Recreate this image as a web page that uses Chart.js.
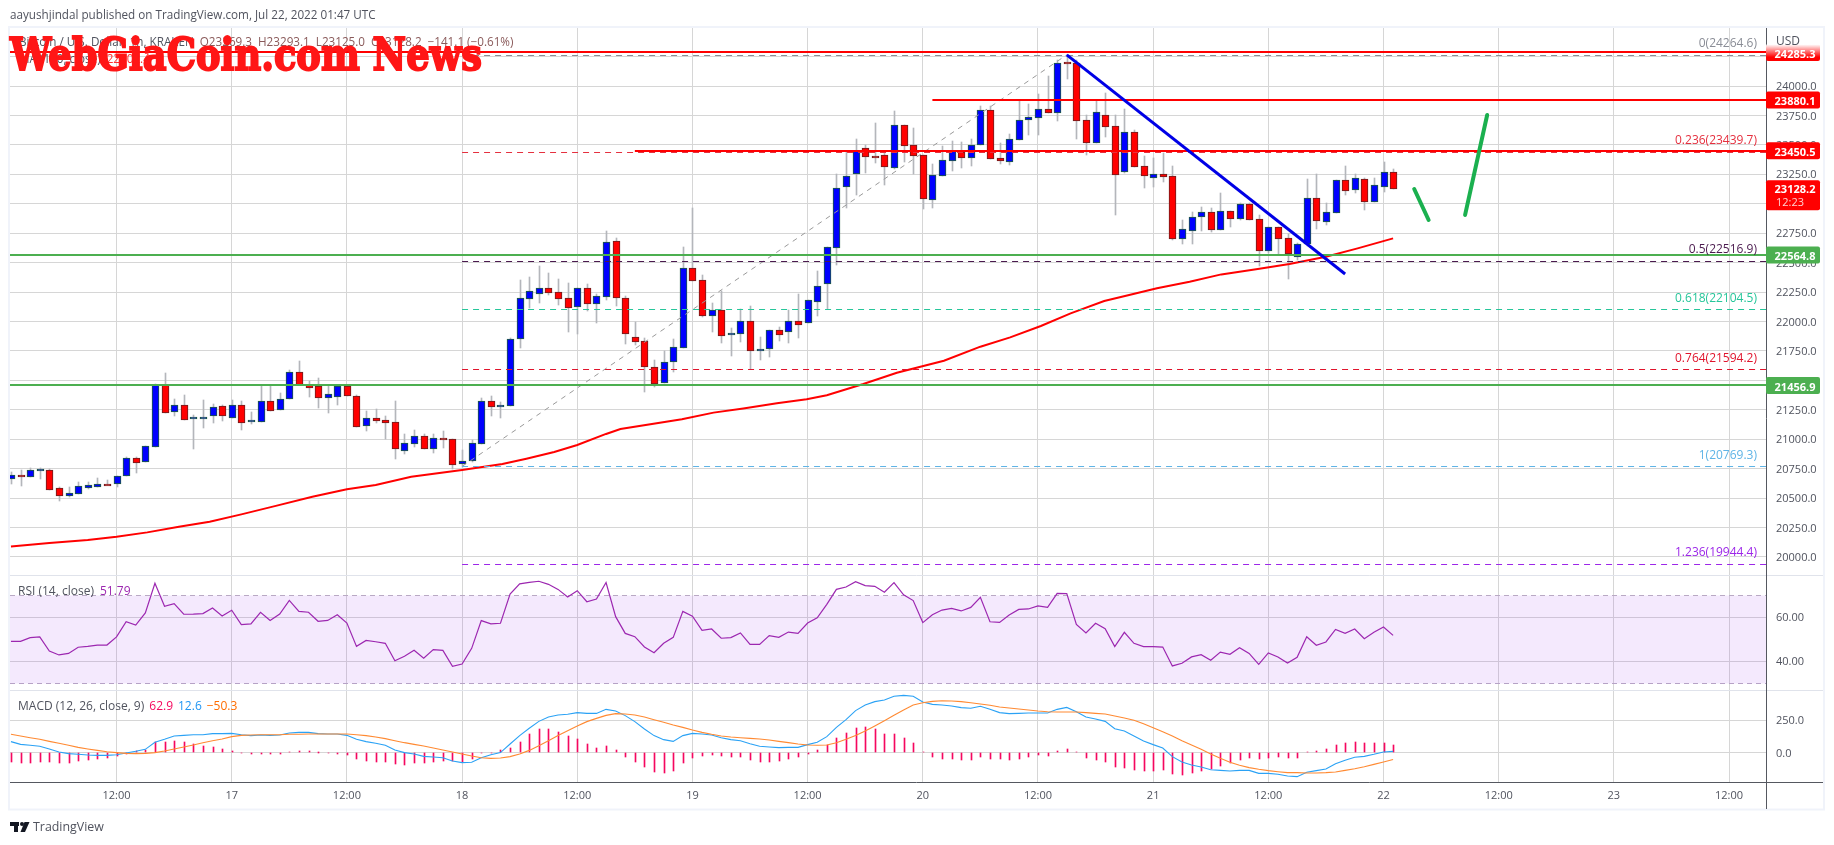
<!DOCTYPE html>
<html>
<head>
<meta charset="utf-8">
<title>BTC/USD 1h</title>
<script src="https://cdn.jsdelivr.net/npm/chart.js@4/dist/chart.umd.min.js"></script>
<style>
  html, body { margin: 0; padding: 0; background: #fff; }
  canvas { display: block; }
</style>
</head>
<body>
<canvas id="chart" width="1834" height="845"></canvas>
<script>
// Hourly candles, first one is Jul 16 01:00 (x axis counts hours from Jul 16 00:00)
const opens = [
  20665,20693,20682,20733,20736,20583,20521,20538,20589,20597,
  20617,20617,20685,20838,20809,20937,21461,21234,21288,21183,
  21183,21194,21279,21183,21288,21149,21149,21322,21245,21344,
  21568,21461,21452,21353,21362,21452,21364,21115,21178,21161,
  21144,20903,20962,21025,20920,21008,20999,20787,20818,20962,
  21322,21277,21285,21848,22194,22236,22281,22247,22197,22126,
  22281,22146,22211,22681,22197,21865,21831,21610,21480,21653,
  21777,22451,22349,22049,22095,21894,21896,22001,21752,21763,
  21925,21908,22001,21984,22168,22321,22627,23145,23250,23470,
  23403,23411,23301,23666,23496,23411,23029,23238,23366,23437,
  23391,23502,23793,23388,23357,23544,23714,23731,23802,23773,
  24201,24192,23708,23519,23751,23658,23272,23606,23318,23221,
  23250,23233,22703,22771,22890,22927,22780,22936,22873,22995,
  22868,22601,22800,22706,22550,22655,23046,22848,22919,23199,
  23117,23207,23018,23145,23269.3
];
const highs = [
  20725,20739,20753,20753,20744,20591,20591,20637,20637,20668,
  20654,20685,20849,20846,20940,21465,21560,21339,21376,21206,
  21333,21296,21288,21330,21327,21231,21452,21452,21395,21588,
  21664,21495,21517,21461,21461,21461,21376,21240,21257,21197,
  21325,21044,21078,21044,21044,21070,20999,20909,20994,21350,
  21367,21316,21857,22352,22378,22471,22412,22361,22327,22281,
  22318,22236,22768,22709,22213,21996,21860,21673,21746,21851,
  22632,22964,22395,22157,22259,21942,22103,22131,21868,21925,
  21950,22097,22233,22180,22426,22630,23252,23442,23550,23499,
  23686,23442,23788,23666,23643,23411,23337,23490,23533,23524,
  23550,23830,23830,23519,23592,23873,23844,23932,24085,24221,
  24264,24221,23754,23873,23938,23751,23805,23626,23405,23388,
  23428,23321,22859,22927,22969,22961,23091,22939,23003,23003,
  22904,22800,22800,22740,22669,23207,23250,23006,23199,23321,
  23250,23216,23216,23354,23293.1
];
const lows = [
  20620,20603,20682,20662,20572,20478,20512,20538,20577,20591,
  20614,20591,20685,20713,20809,20937,21220,21200,21166,20920,
  21095,21138,21158,21183,21081,21132,21149,21243,21245,21344,
  21461,21362,21268,21226,21291,21370,21107,21073,21141,21005,
  20835,20875,20937,20914,20883,20923,20744,20767,20809,20962,
  21197,21180,21285,21775,22112,22160,22225,22143,21913,21894,
  22092,21990,22182,22134,21811,21803,21404,21441,21480,21574,
  21777,22347,22041,21913,21820,21710,21829,21594,21676,21701,
  21834,21820,21862,21984,22049,22103,22482,22967,23074,23264,
  23349,23162,23292,23357,23252,22958,22967,23238,23281,23304,
  23320,23502,23383,23338,23329,23544,23584,23584,23773,23703,
  24062,23550,23414,23519,23564,22904,23258,23315,23134,23139,
  23185,22692,22658,22658,22771,22760,22780,22805,22862,22862,
  22471,22579,22570,22358,22522,22644,22785,22819,22919,23077,
  23094,22947,23018,23100,23125
];
const closes = [
  20693,20687,20736,20744,20572,20521,20541,20600,20609,20617,
  20614,20685,20838,20801,20940,21458,21226,21288,21166,21189,
  21189,21277,21200,21288,21141,21161,21322,21243,21339,21568,
  21461,21438,21353,21381,21452,21370,21107,21178,21158,21141,
  20920,20965,21025,20920,21008,20996,20784,20812,20965,21322,
  21277,21288,21848,22197,22256,22281,22245,22194,22117,22281,
  22151,22213,22672,22202,21896,21829,21610,21472,21653,21780,
  22451,22347,22049,22095,21879,21899,22001,21752,21763,21925,
  21888,22001,21973,22180,22298,22630,23131,23233,23448,23400,
  23391,23315,23666,23493,23408,23037,23244,23369,23448,23391,
  23496,23793,23383,23366,23547,23708,23734,23802,23773,24198,
  24190,23706,23519,23776,23655,23247,23606,23315,23238,23250,
  23230,22701,22783,22885,22927,22777,22936,22873,22995,22865,
  22601,22800,22703,22570,22655,23046,22856,22927,23199,23111,
  23216,23018,23156,23267,23128.2
];

// MA 100 at these hours
const maHours = [1,5,9,12,15.2,18.5,21.7,25,28.7,32.4,36,39,42.7,48,52.2,54.7,57.6,60,63,64.5,70.9,74.2,77.3,80.8,83.9,86,89.8,93.3,98.2,102,105.1,108.3,111.4,114.9,117.5,120.4,123.8,127.1,130.9,134.2,138,141.3,145];
const maValues = [20090,20119,20144,20172,20209,20257,20300,20362,20436,20512,20575,20611,20682,20739,20790,20835,20892,20951,21045,21087,21169,21226,21262,21305,21339,21373,21469,21565,21667,21786,21865,21962,22069,22174,22225,22282,22338,22400,22446,22488,22550,22621,22706];

const rsiValues = [
  49.1,49.1,50.8,51.1,44.7,42.9,43.6,46.4,46.8,47.4,
  47.4,51.1,58.0,56.5,62.0,75.5,65.0,66.2,61.4,61.5,
  61.7,64.2,60.6,63.2,56.7,57.0,62.3,58.6,61.5,67.7,
  62.7,62.3,58.2,58.6,61.2,57.4,46.8,49.5,48.9,48.2,
  40.3,42.3,45.0,41.4,45.3,45.0,37.7,38.8,45.9,58.5,
  57.0,57.3,70.6,75.2,75.9,76.4,75.0,72.7,69.2,72.1,
  67.1,68.3,75.8,60.3,52.7,51.2,46.5,43.9,48.2,50.9,
  62.7,60.5,54.1,54.7,50.5,50.8,52.9,47.7,47.7,51.7,
  50.9,53.3,52.7,57.4,59.8,65.9,72.7,73.8,76.2,74.4,
  74.1,71.4,75.8,70.2,67.6,57.6,61.2,63.3,64.1,62.9,
  64.5,69.1,58.0,57.7,61.1,63.6,63.8,65.2,64.5,70.9,
  70.8,56.8,52.9,57.3,54.8,46.7,53.2,48.2,46.7,46.7,
  46.5,37.9,39.1,42.0,43.0,40.5,44.2,43.2,46.2,43.6,
  38.6,43.8,42.0,39.2,41.8,51.2,47.3,48.8,54.5,52.7,
  54.7,50.3,53.2,55.6,51.79
];

const macdValues = [
  87,66,59,51,31,8,-5,-10,-15,-18,
  -18,-13,0,13,28,82,105,130,135,140,
  140,148,148,150,140,133,138,135,138,153,
  158,158,148,145,145,135,105,87,74,59,
  23,3,-8,-26,-31,-36,-61,-74,-71,-36,
  -13,3,69,133,189,242,275,291,296,309,
  303,303,334,321,286,240,184,133,102,89,
  133,150,145,138,117,102,94,71,51,46,
  41,43,43,64,82,125,196,255,324,367,
  393,405,434,441,434,390,372,367,360,347,
  342,357,334,309,301,303,306,306,306,334,
  349,316,275,260,242,186,168,130,92,64,
  38,-28,-69,-92,-107,-128,-133,-138,-133,-133,
  -156,-156,-163,-176,-181,-148,-135,-122,-82,-56,
  -33,-26,-10,8,12.6
];
const signalValues = [
  143,130,117,105,89,74,59,43,31,20,
  10,3,-3,-5,-3,3,15,31,46,61,
  79,94,107,125,135,138,140,140,140,143,
  143,145,145,145,145,145,140,133,122,110,
  94,79,66,54,38,23,8,-8,-23,-36,
  -41,-38,-28,-8,20,56,94,133,171,207,
  240,265,288,301,298,291,275,255,235,214,
  196,176,158,143,130,122,117,112,107,99,
  89,79,69,61,59,61,79,105,133,168,
  207,247,288,329,367,385,395,400,398,393,
  385,375,365,352,344,337,329,321,316,314,
  314,314,309,303,298,283,268,250,224,194,
  163,130,94,61,28,-8,-41,-71,-94,-112,
  -125,-135,-143,-150,-150,-153,-153,-150,-145,-133,
  -120,-105,-87,-69,-50.3
];
const histValues = [
  -69,-74,-74,-66,-66,-74,-74,-59,-54,-48,
  -38,-23,-8,13,23,82,87,92,84,66,
  56,46,31,13,-3,-10,-8,-10,-8,5,
  13,13,3,-2,-5,-13,-43,-61,-66,-69,
  -82,-89,-79,-79,-66,-59,-64,-71,-46,-3,
  -3,23,36,84,143,181,186,161,133,107,
  69,41,56,23,-28,-66,-105,-143,-150,-140,
  -74,-36,-20,-13,-20,-28,-28,-54,-66,-66,
  -59,-43,-28,-5,23,61,117,153,191,199,
  184,148,148,117,77,5,-28,-43,-43,-51,
  -51,-31,-43,-48,-51,-43,-31,-18,-20,15,
  31,5,-36,-51,-66,-105,-115,-128,-135,-135,
  -128,-158,-166,-150,-135,-122,-97,-79,-54,-38,
  -46,-36,-31,-36,-36,8,13,28,61,77,
  82,77,77,77,62.9
];

const timeTickHours = [12,24,36,48,60,72,84,96,108,120,132,144,156,168,180];
const timeTickLabels = ["12:00","17","12:00","18","12:00","19","12:00","20","12:00","21","12:00","22","12:00","23","12:00"];
const priceTicks = [20000,20250,20500,20750,21000,21250,21500,21750,22000,22250,22500,22750,23000,23250,23500,23750,24000,24250];
const rsiTicks = [40,60];
const macdTicks = [0,250];

// Fibonacci retracement, drawn from hour 48 up to the price axis
const fibLabels = ["0","0.236","0.5","0.618","0.764","1","1.236"];
const fibPrices = [24264.6,23439.7,22516.9,22104.5,21594.2,20769.3,19944.4];
const fibColors = ["#8a8d96","#e5303f","#4a1a4e","#26c69a","#e0142c","#5fb4e6","#9c27e8"];

// Hand drawn levels: price, first hour, colour
const levelPrices = [24285.3,23880.1,23450.5,22564.8,21456.9];
const levelStarts = [0,97,66,0,0];
const levelColors = ["#ff0000","#ff0000","#ff0000","#4caf50","#4caf50"];

// Hand drawn trend line and the two green arrows
const trendHours = [111,140];
const trendPrices = [24264.6,22403];
const fibDiagHours = [48,111];
const fibDiagPrices = [20769.3,24264.6];
const arrowDownHours = [147.2,148.7];
const arrowDownPrices = [23125,22862];
const arrowUpHours = [152.5,154.8];
const arrowUpPrices = [22905,23754];

const xMin = 0.9;
const xMax = 183.85;
const axisFont = '"Open Sans"';
const tickColor = "#50535e";
const gridColor = "#d6d6d6";

const toPoints = (xs, ys) => xs.map((x, i) => ({ x, y: ys[i] }));
const perBar = (values) => values.map((y, i) => ({ x: i + 1, y }));
const isUp = (i) => closes[i] >= opens[i];

const lineSet = (label, data, yAxisID, extra) => ({
  type: "line",
  label,
  data,
  yAxisID,
  pointRadius: 0,
  tension: 0,
  fill: false,
  ...extra,
});

const datasets = [
  // Candles: wick as a thin floating bar, body as a wider one
  {
    type: "bar",
    label: "wicks",
    data: highs.map((h, i) => ({ x: i + 1, y: [lows[i], h] })),
    yAxisID: "y",
    grouped: false,
    barThickness: 1,
    backgroundColor: "#b4b6bb",
    order: 20,
  },
  {
    type: "bar",
    label: "bodies",
    data: opens.map((o, i) => ({ x: i + 1, y: [o, closes[i]] })),
    yAxisID: "y",
    grouped: false,
    barThickness: 7,
    borderWidth: 1,
    borderSkipped: false,
    backgroundColor: opens.map((o, i) => (isUp(i) ? "#0000ff" : "#ff0000")),
    borderColor: opens.map((o, i) => (isUp(i) ? "#1f5f3a" : "#6a1f1f")),
    order: 19,
    minBodyPx: 2,
  },
  lineSet("MA 100", toPoints(maHours, maValues), "y", { borderColor: "#ff0000", borderWidth: 2, order: 10 }),
  lineSet("fib diagonal", toPoints(fibDiagHours, fibDiagPrices), "y", { borderColor: "#9a9a9a", borderWidth: 1, borderDash: [5, 5], order: 9 }),
];

fibPrices.forEach((price, i) => {
  datasets.push(
    lineSet("fib " + fibLabels[i], [{ x: 48, y: price }, { x: xMax, y: price }], "y", {
      borderColor: fibColors[i],
      borderWidth: 1,
      borderDash: [6, 5],
      order: 8,
      snapY: 0.5,
    })
  );
});

levelPrices.forEach((price, i) => {
  datasets.push(
    lineSet("level " + price, [{ x: levelStarts[i], y: price }, { x: xMax, y: price }], "y", {
      borderColor: levelColors[i],
      borderWidth: 2,
      order: 6,
      snapY: 0,
    })
  );
});

datasets.push(
  lineSet("trend", toPoints(trendHours, trendPrices), "y", { borderColor: "#0000e6", borderWidth: 3, order: 5 }),
  lineSet("arrow down", toPoints(arrowDownHours, arrowDownPrices), "y", { borderColor: "#1bb04f", borderWidth: 4, borderCapStyle: "round", order: 4 }),
  lineSet("arrow up", toPoints(arrowUpHours, arrowUpPrices), "y", { borderColor: "#1bb04f", borderWidth: 4, borderCapStyle: "round", order: 4 }),

  // RSI pane
  lineSet("rsi upper", [{ x: xMin, y: 70 }, { x: xMax, y: 70 }], "yRsi", {
    borderColor: "#b9a9c4",
    borderWidth: 1,
    borderDash: [5, 4],
    fill: "+1",
    backgroundColor: "rgba(153,51,238,0.11)",
    order: 18,
    snapY: 0.5,
  }),
  lineSet("rsi lower", [{ x: xMin, y: 30 }, { x: xMax, y: 30 }], "yRsi", {
    borderColor: "#b9a9c4",
    borderWidth: 1,
    borderDash: [5, 4],
    order: 18,
    snapY: 0.5,
  }),
  lineSet("RSI", perBar(rsiValues), "yRsi", { borderColor: "#9c27b0", borderWidth: 1.2, order: 3 }),

  // MACD pane
  {
    type: "bar",
    label: "hist",
    data: perBar(histValues),
    yAxisID: "yMacd",
    grouped: false,
    barThickness: 1,
    backgroundColor: "#f5075f",
    order: 3,
  },
  lineSet("MACD", perBar(macdValues), "yMacd", { borderColor: "#2ba2f5", borderWidth: 1.1, order: 2 }),
  lineSet("Signal", perBar(signalValues), "yMacd", { borderColor: "#ff8a33", borderWidth: 1.1, order: 1 })
);

const fixTicks = (values) => (scale) => {
  scale.ticks = values.map((value) => ({ value }));
};

const priceAxis = (extra) => ({
  type: "linear",
  position: "right",
  stack: "panes",
  border: { display: false },
  grid: { color: gridColor, drawTicks: false },
  afterFit: (scale) => {
    scale.width = 57;
  },
  ...extra,
});

// Write text pieces one after the other on a line
const drawRuns = (ctx, x, y, runs, gap) => {
  runs.forEach(([text, color]) => {
    ctx.fillStyle = color;
    ctx.fillText(text, x, y);
    x += ctx.measureText(text).width + gap;
  });
};

const badge = (ctx, top, height, fill) => {
  ctx.fillStyle = fill;
  ctx.beginPath();
  ctx.roundRect(1766, top, 54, height, 2);
  ctx.fill();
};

// Line up bars and flat lines with whole pixels so they stay crisp
const pixelSnap = {
  id: "pixelSnap",
  afterDatasetsUpdate(chart) {
    chart.getSortedVisibleDatasetMetas().forEach((meta) => {
      const source = chart.data.datasets[meta.index];
      if (meta.type === "bar") {
        meta.data.forEach((bar) => {
          bar.x = Math.round(bar.x) + 0.5;
          bar.y = Math.round(bar.y);
          bar.base = Math.round(bar.base);
          if (source.minBodyPx && Math.abs(bar.y - bar.base) < source.minBodyPx) {
            bar.base = bar.y + source.minBodyPx;
          }
        });
      } else if (source.snapY !== undefined) {
        meta.data.forEach((point) => {
          point.y = Math.round(point.y) + source.snapY;
        });
      }
    });
  },
};

const tradingViewDecor = {
  id: "tradingViewDecor",
  beforeDraw(chart) {
    const { ctx, scales } = chart;
    ctx.save();
    ctx.fillStyle = "#fff";
    ctx.fillRect(0, 0, chart.width, chart.height);
    // light frame round the whole widget
    ctx.strokeStyle = "#f0f3fa";
    ctx.lineWidth = 2;
    ctx.strokeRect(9, 27, 1815, 782.5);
    ctx.restore();

    // axis labels sit one pixel lower than the font's middle line
    [scales.y, scales.yRsi, scales.yMacd].forEach((scale) => {
      scale.getLabelItems().forEach((item) => {
        item.options.translation[1] += 1;
      });
    });
  },
  afterDatasetsDraw(chart) {
    const { ctx, chartArea, scales } = chart;
    const { left, right, top, bottom } = chartArea;
    const y = scales.y;
    ctx.save();

    // pane separators and axis lines
    ctx.strokeStyle = "#e0e3eb";
    ctx.lineWidth = 1;
    [575.5, 690.5].forEach((py) => {
      ctx.beginPath();
      ctx.moveTo(left, py);
      ctx.lineTo(1823, py);
      ctx.stroke();
    });
    ctx.strokeStyle = "#555860";
    ctx.beginPath();
    ctx.moveTo(right + 0.5, top);
    ctx.lineTo(right + 0.5, 809);
    ctx.moveTo(left, bottom + 0.5);
    ctx.lineTo(1823, bottom + 0.5);
    ctx.stroke();

    ctx.textBaseline = "middle";

    // fib labels sit right aligned over their lines
    ctx.textAlign = "right";
    ctx.font = `12px ${axisFont}`;
    fibPrices.forEach((price, i) => {
      ctx.fillStyle = fibColors[i];
      ctx.fillText(`${fibLabels[i]}(${price.toFixed(1)})`, 1757, y.getPixelForValue(price) - 11);
    });

    // price badges on the axis
    ctx.textAlign = "center";
    ctx.font = `bold 11px ${axisFont}`;
    levelPrices.forEach((price, i) => {
      const py = y.getPixelForValue(price);
      let fill = levelColors[i];
      if (i === 0) {
        fill = ctx.createLinearGradient(0, py - 8, 0, py + 9);
        fill.addColorStop(0, "#ffffff");
        fill.addColorStop(0.75, "#ff0000");
      }
      badge(ctx, py - 8.5, 17, fill);
      ctx.fillStyle = "#fff";
      ctx.fillText(price.toFixed(1), 1795, py + 2);
    });
    const lastPrice = closes[closes.length - 1];
    const lastY = y.getPixelForValue(lastPrice);
    badge(ctx, lastY - 8.5, 30, "#ff0000");
    ctx.fillStyle = "#fff";
    ctx.fillText(lastPrice.toFixed(1), 1795, lastY + 1.5);
    ctx.font = `11px ${axisFont}`;
    ctx.fillStyle = "#ffd0d0";
    ctx.fillText("12:23", 1790, lastY + 14.5);

    ctx.textAlign = "left";
    ctx.font = `12px ${axisFont}`;
    ctx.fillStyle = tickColor;
    ctx.fillText("USD", 1776, 41.5);

    // legends
    ctx.font = `11.7px ${axisFont}`;
    drawRuns(ctx, 10, 16, [["aayushjindal published on TradingView.com, Jul 22, 2022 01:47 UTC", "#50535e"]], 0);
    drawRuns(ctx, 19, 43, [
      ["Bitcoin / U.S. Dollar, 1h, KRAKEN", "#50535e"],
      ["O23269.3", "#8a5a5a"],
      ["H23293.1", "#8a5a5a"],
      ["L23125.0", "#8a5a5a"],
      ["C23128.2", "#8a5a5a"],
      ["\u2212141.1 (\u22120.61%)", "#8a5a5a"],
    ], 6);
    drawRuns(ctx, 19, 60, [["MA (100, close)", "#50535e"], ["22702.4", "#ff3030"]], 6);
    ctx.font = `12px ${axisFont}`;
    drawRuns(ctx, 18, 592, [["RSI (14, close)", "#50535e"], ["51.79", "#9c27b0"]], 6);
    drawRuns(ctx, 18, 707, [
      ["MACD (12, 26, close, 9)", "#50535e"],
      ["62.9", "#f5075f"],
      ["12.6", "#2196f3"],
      ["\u221250.3", "#ff6d00"],
    ], 5);

    // red watermark over the legend
    ctx.textBaseline = "alphabetic";
    ctx.font = 'bold 44px "DejaVu Serif"';
    ctx.fillStyle = "#ff1616";
    ctx.strokeStyle = "#ff1616";
    ctx.lineWidth = 2;
    const mark = "WebGiaCoin.com News";
    const squeeze = 472 / ctx.measureText(mark).width;
    ctx.save();
    ctx.translate(10, 70);
    ctx.scale(squeeze, 1);
    ctx.fillText(mark, 0, 0);
    ctx.strokeText(mark, 0, 0);
    ctx.restore();

    // TradingView logo and name under the chart
    ctx.textBaseline = "middle";
    ctx.fillStyle = "#131722";
    ctx.fillRect(10, 822, 9, 4);
    ctx.fillRect(14, 822, 4, 10);
    ctx.beginPath();
    ctx.arc(22, 824, 2, 0, Math.PI * 2);
    ctx.fill();
    ctx.beginPath();
    ctx.moveTo(24.5, 822);
    ctx.lineTo(29.5, 822);
    ctx.lineTo(25, 832);
    ctx.lineTo(20.5, 832);
    ctx.closePath();
    ctx.fill();
    ctx.font = `12.4px ${axisFont}`;
    ctx.fillStyle = "#50535e";
    ctx.fillText("TradingView", 33, 827);

    ctx.restore();
  },
};

const axisTicks = (format) => ({
  autoSkip: false,
  padding: 10,
  color: tickColor,
  font: { family: axisFont, size: 11 },
  callback: format,
});

new Chart(document.getElementById("chart"), {
  type: "bar",
  data: { datasets },
  plugins: [pixelSnap, tradingViewDecor],
  options: {
    responsive: false,
    animation: false,
    devicePixelRatio: 1,
    layout: { padding: { left: 10, top: 28, right: 11, bottom: 36 } },
    plugins: { legend: { display: false }, tooltip: { enabled: false } },
    scales: {
      x: {
        type: "linear",
        min: xMin,
        max: xMax,
        offset: false,
        border: { display: false },
        grid: { color: gridColor, drawTicks: false, offset: false },
        afterBuildTicks: fixTicks(timeTickHours),
        afterFit: (scale) => {
          scale.height = 27;
        },
        ticks: {
          autoSkip: false,
          maxRotation: 0,
          padding: 7,
          color: tickColor,
          font: { family: axisFont, size: 11 },
          callback: (value) => timeTickLabels[timeTickHours.indexOf(value)],
        },
      },
      y: priceAxis({
        min: 19847,
        max: 24492.6,
        weight: 1,
        stackWeight: 547,
        afterBuildTicks: fixTicks(priceTicks),
        ticks: axisTicks((value) => value.toFixed(1)),
      }),
      yRsi: priceAxis({
        min: 26.97,
        max: 79.24,
        weight: 2,
        stackWeight: 115,
        afterBuildTicks: fixTicks(rsiTicks),
        ticks: axisTicks((value) => value.toFixed(2)),
      }),
      yMacd: priceAxis({
        min: -222,
        max: 482,
        weight: 3,
        stackWeight: 92,
        afterBuildTicks: fixTicks(macdTicks),
        ticks: axisTicks((value) => value.toFixed(1)),
      }),
    },
  },
});
</script>
</body>
</html>
